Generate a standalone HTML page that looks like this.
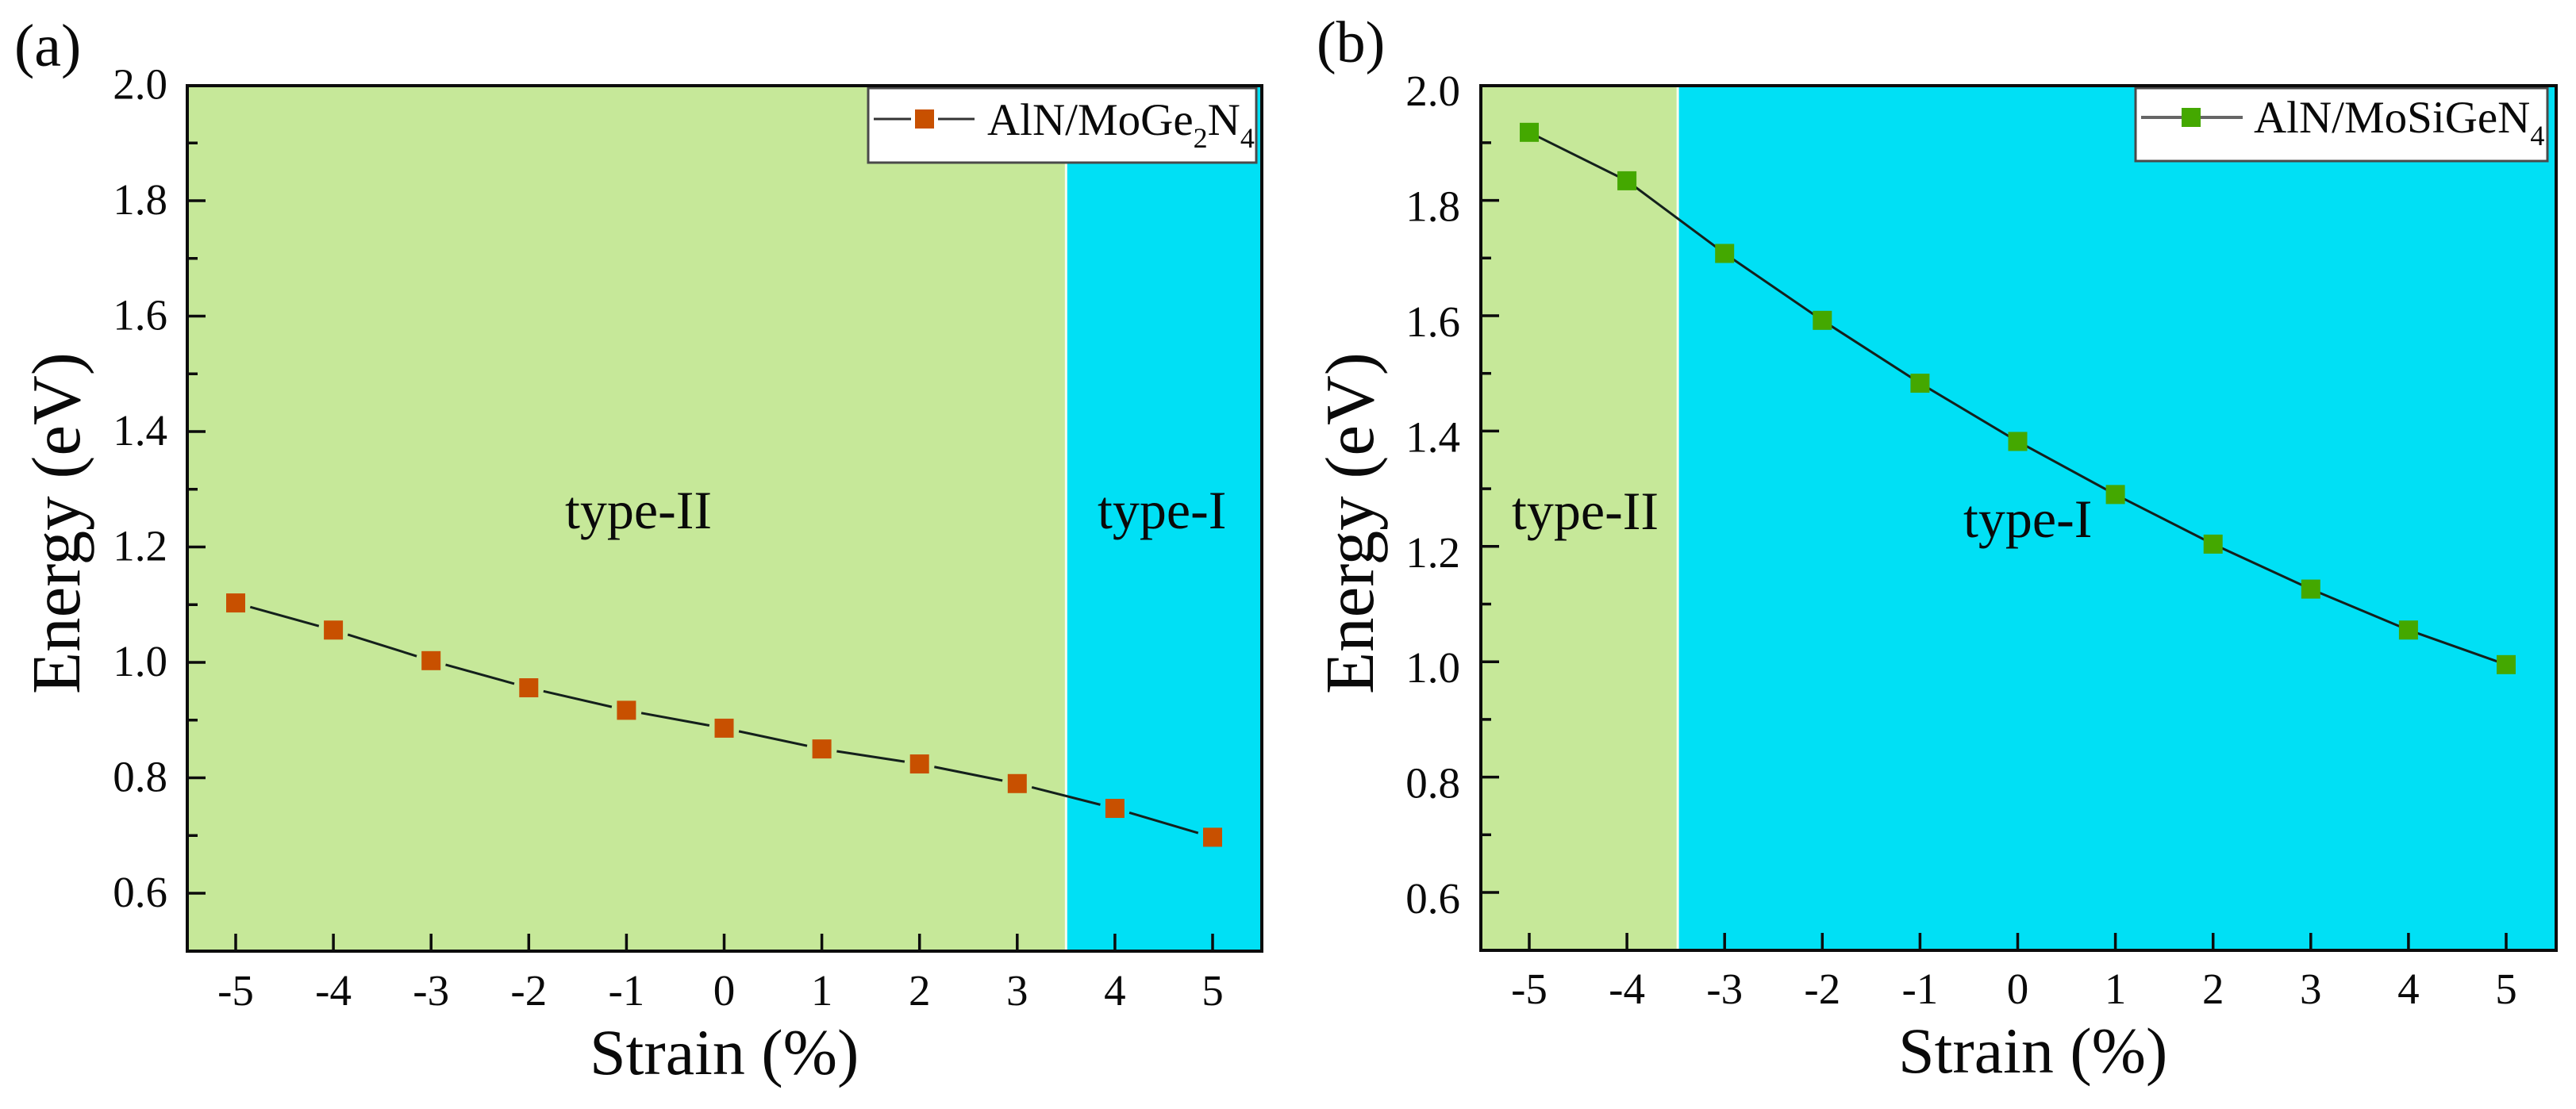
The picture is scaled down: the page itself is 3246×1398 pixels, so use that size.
<!DOCTYPE html>
<html lang="en">
<head>
<meta charset="utf-8">
<title>AlN heterostructure energy vs strain</title>
<style>
html,body{margin:0;padding:0;background:#fff;width:3246px;height:1398px;overflow:hidden}
svg{display:block}
text{font-family:"Liberation Serif",serif;fill:#0a0a0a}
</style>
</head>
<body>
<svg id="chart" xmlns="http://www.w3.org/2000/svg" width="3246" height="1398" viewBox="0 0 3246 1398"></svg>
<script>
const strainCategories = [-5,-4,-3,-2,-1,0,1,2,3,4,5];
const mogeEnergy = [1.103,1.056,1.003,0.956,0.917,0.886,0.85,0.824,0.79,0.747,0.697];
const mosigeEnergy = [1.918,1.834,1.708,1.592,1.483,1.382,1.29,1.204,1.126,1.055,0.995];
const yTickValues = [2.0,1.8,1.6,1.4,1.2,1.0,0.8,0.6];
const yTickLabels = ["2.0","1.8","1.6","1.4","1.2","1.0","0.8","0.6"];
const yMinorTickValues = [1.9,1.7,1.5,1.3,1.1,0.9,0.7];
const xTickLabels = ["-5","-4","-3","-2","-1","0","1","2","3","4","5"];
const mogeBoundary = 3.5;
const mosigeBoundary = -3.48;

const NS = "http://www.w3.org/2000/svg";
const svg = document.getElementById("chart");
function make(parent, tag, attrs, text){
  const el = document.createElementNS(NS, tag);
  for (const k in attrs) el.setAttribute(k, attrs[k]);
  if (text !== undefined) el.textContent = text;
  parent.appendChild(el);
  return el;
}

function drawPanel(p){
  const g = make(svg, "g", {});
  
  
  const sx = v => p.x5 + (v + 5) * p.xStep;
  const sy = v => p.y06 - (v - 0.6) * p.yUnit;
  const splitX = sx(p.boundary);

  const leftRegion = make(g, "rect", {x:p.left, y:p.top, width:splitX-p.left, height:p.bottom-p.top, fill:p.leftFill});
  
  
  const rightRegion = make(g, "rect", {x:splitX, y:p.top, width:p.right-splitX, height:p.bottom-p.top, fill:p.rightFill});
  
  
  const divider = make(g, "line", {x1:splitX, x2:splitX, y1:p.top, y2:p.bottom, stroke:"#f4fbf0", "stroke-width":3});
  
  

  // series line
  for (let i = 0; i < p.values.length - 1; i++){
    const x1 = sx(strainCategories[i]), y1 = sy(p.values[i]);
    const x2 = sx(strainCategories[i+1]), y2 = sy(p.values[i+1]);
    const d = Math.hypot(x2-x1, y2-y1), t = p.trim / d;
    const seg = make(g, "line", {x1:x1+(x2-x1)*t, y1:y1+(y2-y1)*t, x2:x2-(x2-x1)*t, y2:y2-(y2-y1)*t, stroke:"#14201c", "stroke-width":3});
    
    
  }
  // markers
  p.values.forEach((v, i) => {
    const m = make(g, "rect", {x:sx(strainCategories[i])-12, y:sy(v)-12, width:24, height:24, fill:p.marker});
    
    
  });

  // legend
  const lg = make(g, "g", {});
  
  
  make(lg, "rect", {x:p.lgX, y:p.top+3, width:p.lgW, height:p.lgH, fill:"#fff", stroke:"#4a4a4a", "stroke-width":3});
  if (p.trim > 0){
    make(lg, "line", {x1:p.lgLine1, x2:p.lgMark-17, y1:p.lgY, y2:p.lgY, stroke:"#333", "stroke-width":3});
    make(lg, "line", {x1:p.lgMark+17, x2:p.lgLine2, y1:p.lgY, y2:p.lgY, stroke:"#333", "stroke-width":3});
  } else {
    make(lg, "line", {x1:p.lgLine1, x2:p.lgLine2, y1:p.lgY, y2:p.lgY, stroke:"#666", "stroke-width":4});
  }
  make(lg, "rect", {x:p.lgMark-p.lgMW/2, y:p.lgY-12, width:p.lgMW, height:24, fill:p.marker});
  const lt = make(lg, "text", {x:p.lgTextX, y:p.lgBase, "font-size":57});
  
  
  p.legendParts.forEach(part => {
    const ts = make(lt, "tspan", part[1] ? {"font-size":36, dy:part[1]} : {}, part[0]);
    if (part[2]) ts.setAttribute("dy", part[2]);
  });

  // frame
  const frame = make(g, "rect", {x:p.left, y:p.top, width:p.right-p.left, height:p.bottom-p.top, fill:"none", stroke:"#0c0c0c", "stroke-width":4});
  
  

  // y ticks
  yTickValues.forEach((v, i) => {
    if (v < 2){
      const t = make(g, "line", {x1:p.left, x2:p.left+23, y1:sy(v), y2:sy(v), stroke:"#0c0c0c", "stroke-width":3.5});
      
      
    }
    const lab = make(g, "text", {x:p.yLabelX, y:sy(v)+p.yLabelDy, "font-size":55, "text-anchor":"end"}, yTickLabels[i]);
    
    
  });
  yMinorTickValues.forEach(v => {
    const t = make(g, "line", {x1:p.left, x2:p.left+13, y1:sy(v), y2:sy(v), stroke:"#0c0c0c", "stroke-width":3.5});
    
    
  });
  // x ticks
  strainCategories.forEach((v, i) => {
    const t = make(g, "line", {x1:sx(v), x2:sx(v), y1:p.bottom, y2:p.bottom-22, stroke:"#0c0c0c", "stroke-width":3.5});
    
    
    const lab = make(g, "text", {x:sx(v), y:p.xLabelY, "font-size":55, "text-anchor":"middle"}, xTickLabels[i]);
    
    
  });

  // titles
  const xt = make(g, "text", {x:p.xTitleX, y:p.xTitleY, "font-size":82}, "Strain (%)");
  
  
  const yt = make(g, "text", {transform:"translate("+p.yTitleX+","+p.yTitleY+") rotate(-90)", "font-size":87}, "Energy (eV)");
  
  
  const tag = make(g, "text", {x:p.tagX, y:p.tagY, "font-size":p.tagSize}, p.tag);
  
  

  // region annotations
  p.notes.forEach(n => {
    const a = make(g, "text", {x:n[1], y:n[2], "font-size":68}, n[0]);
    
    
  });
}

drawPanel({
  id:"moge", tag:"(a)", tagSize:76, values:mogeEnergy, boundary:mogeBoundary, marker:"#c85000",
  leftFill:"#c6e899", rightFill:"#00e0f5", trim:19,
  left:236, right:1590, top:108, bottom:1199, x5:297, xStep:123.1, y06:1126, yUnit:727.5,
  yLabelX:211, yLabelDy:17, xLabelY:1267, xTitleX:743, xTitleY:1354, yTitleX:100, yTitleY:875,
  tagX:18, tagY:83,
  lgX:1094, lgW:489, lgH:94, lgY:150, lgMark:1165, lgMW:24, lgLine1:1101, lgLine2:1228, lgTextX:1244, lgBase:170,
  legendParts:[["AlN/MoGe"],["2",16],["N",0,-16],["4",16]],
  notes:[["type-II",712,666],["type-I",1383,666]]
});
drawPanel({
  id:"mosige", tag:"(b)", tagSize:74, values:mosigeEnergy, boundary:mosigeBoundary, marker:"#44a800",
  leftFill:"#c6e899", rightFill:"#00e0f5", trim:0,
  left:1866, right:3221, top:108, bottom:1198, x5:1927, xStep:123.1, y06:1125, yUnit:727,
  yLabelX:1840, yLabelDy:26, xLabelY:1265, xTitleX:2392, xTitleY:1352, yTitleX:1730, yTitleY:875,
  tagX:1659, tagY:78,
  lgX:2691, lgW:519, lgH:92, lgY:148, lgMark:2761, lgMW:24, lgLine1:2698, lgLine2:2826, lgTextX:2840, lgBase:167,
  legendParts:[["AlN/MoSiGeN"],["4",16]],
  notes:[["type-II",1905,667],["type-I",2474,677]]
});
</script>
</body>
</html>
